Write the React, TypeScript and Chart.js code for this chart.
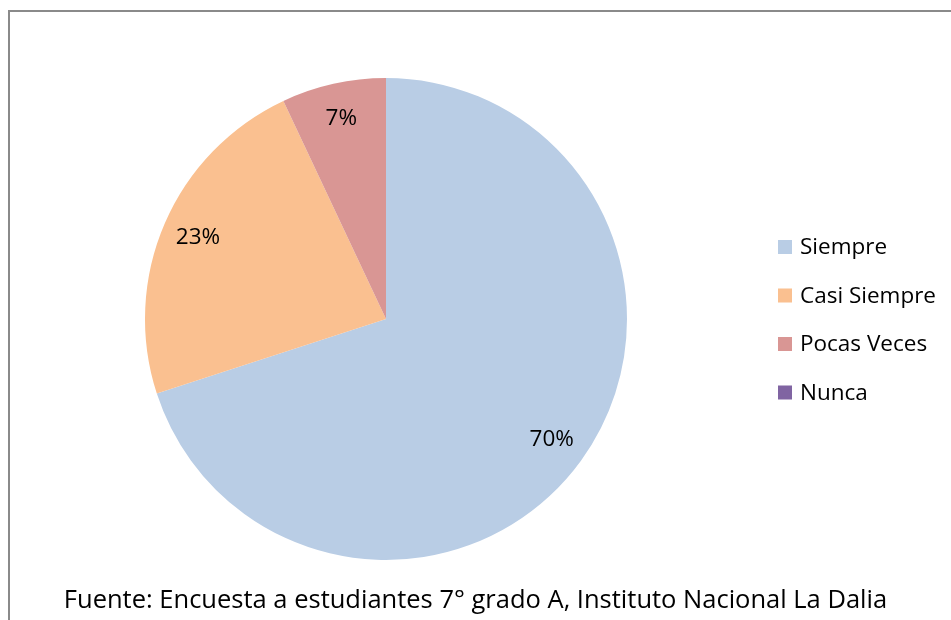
import React, { useEffect, useRef } from "react";
import { Chart, registerables } from "chart.js";

Chart.register(...registerables);

const categories = ["Siempre", "Casi Siempre", "Pocas Veces", "Nunca"];
const values = [70, 23, 7, 0];
const colors = ["#B9CDE5", "#FAC090", "#D99694", "#8064A2"];
const footerText = "Fuente: Encuesta a estudiantes 7° grado A, Instituto Nacional La Dalia";

const FONT = "'Open Sans', Lato, sans-serif";

const overlayPlugin = {
  id: "overlay",
  afterDraw(chart: any) {
    const ctx = chart.ctx as CanvasRenderingContext2D;
    const meta = chart.getDatasetMeta(0);
    const data = chart.data.datasets[0].data as number[];
    const total = data.reduce((a, b) => a + b, 0);
    ctx.save();
    // percentage labels
    ctx.fillStyle = "#000";
    ctx.font = `22.5px ${FONT}`;
    ctx.textAlign = "center";
    ctx.textBaseline = "middle";
    meta.data.forEach((arc: any, i: number) => {
      if (!data[i]) return;
      const mid = (arc.startAngle + arc.endAngle) / 2;
      const r = arc.outerRadius * 0.85;
      const x = arc.x + Math.cos(mid) * r;
      const y = arc.y + Math.sin(mid) * r;
      ctx.fillText(Math.round((data[i] / total) * 100) + "%", x, y);
    });
    // legend
    const lx = 778;
    const ly0 = 247;
    const gap = 48.5;
    ctx.textAlign = "left";
    ctx.font = `22.5px ${FONT}`;
    (chart.data.labels as string[]).forEach((lab, i) => {
      const y = ly0 + i * gap;
      ctx.fillStyle = colors[i];
      ctx.fillRect(lx, y - 7, 14, 14);
      ctx.fillStyle = "#000";
      ctx.fillText(lab, lx + 22, y + 1);
    });
    ctx.restore();
  },
};

export default function App() {
  const ref = useRef<HTMLCanvasElement>(null);
  useEffect(() => {
    document.body.style.margin = "0";
    const chart = new Chart(ref.current!, {
      type: "pie",
      data: {
        labels: categories,
        datasets: [
          {
            data: values,
            backgroundColor: colors,
            borderWidth: 0,
          },
        ],
      },
      options: {
        animation: false,
        responsive: false,
        events: [],
        layout: { padding: { left: 145, top: 78, right: 324, bottom: 60 } },
        plugins: {
          legend: { display: false },
          tooltip: { enabled: false },
        },
      },
      plugins: [overlayPlugin],
    });
    return () => chart.destroy();
  }, []);
  return (
    <div style={{ position: "relative", width: 951, height: 620, overflow: "hidden", background: "#fff" }}>
      <div
        style={{
          position: "absolute",
          left: 8,
          top: 10,
          width: 1000,
          height: 700,
          borderTop: "2px solid #8a8a8a",
          borderLeft: "2px solid #8a8a8a",
        }}
      />
      <canvas ref={ref} width={951} height={620} style={{ position: "absolute", left: 0, top: 0 }} />
      <div
        style={{
          position: "absolute",
          left: 0,
          width: 951,
          top: 580,
          textAlign: "center",
          fontFamily: FONT,
          fontSize: 25.5,
          lineHeight: "36px",
          color: "#000",
          whiteSpace: "nowrap",
        }}
      >
        <span>{footerText}</span>
      </div>
    </div>
  );
}
